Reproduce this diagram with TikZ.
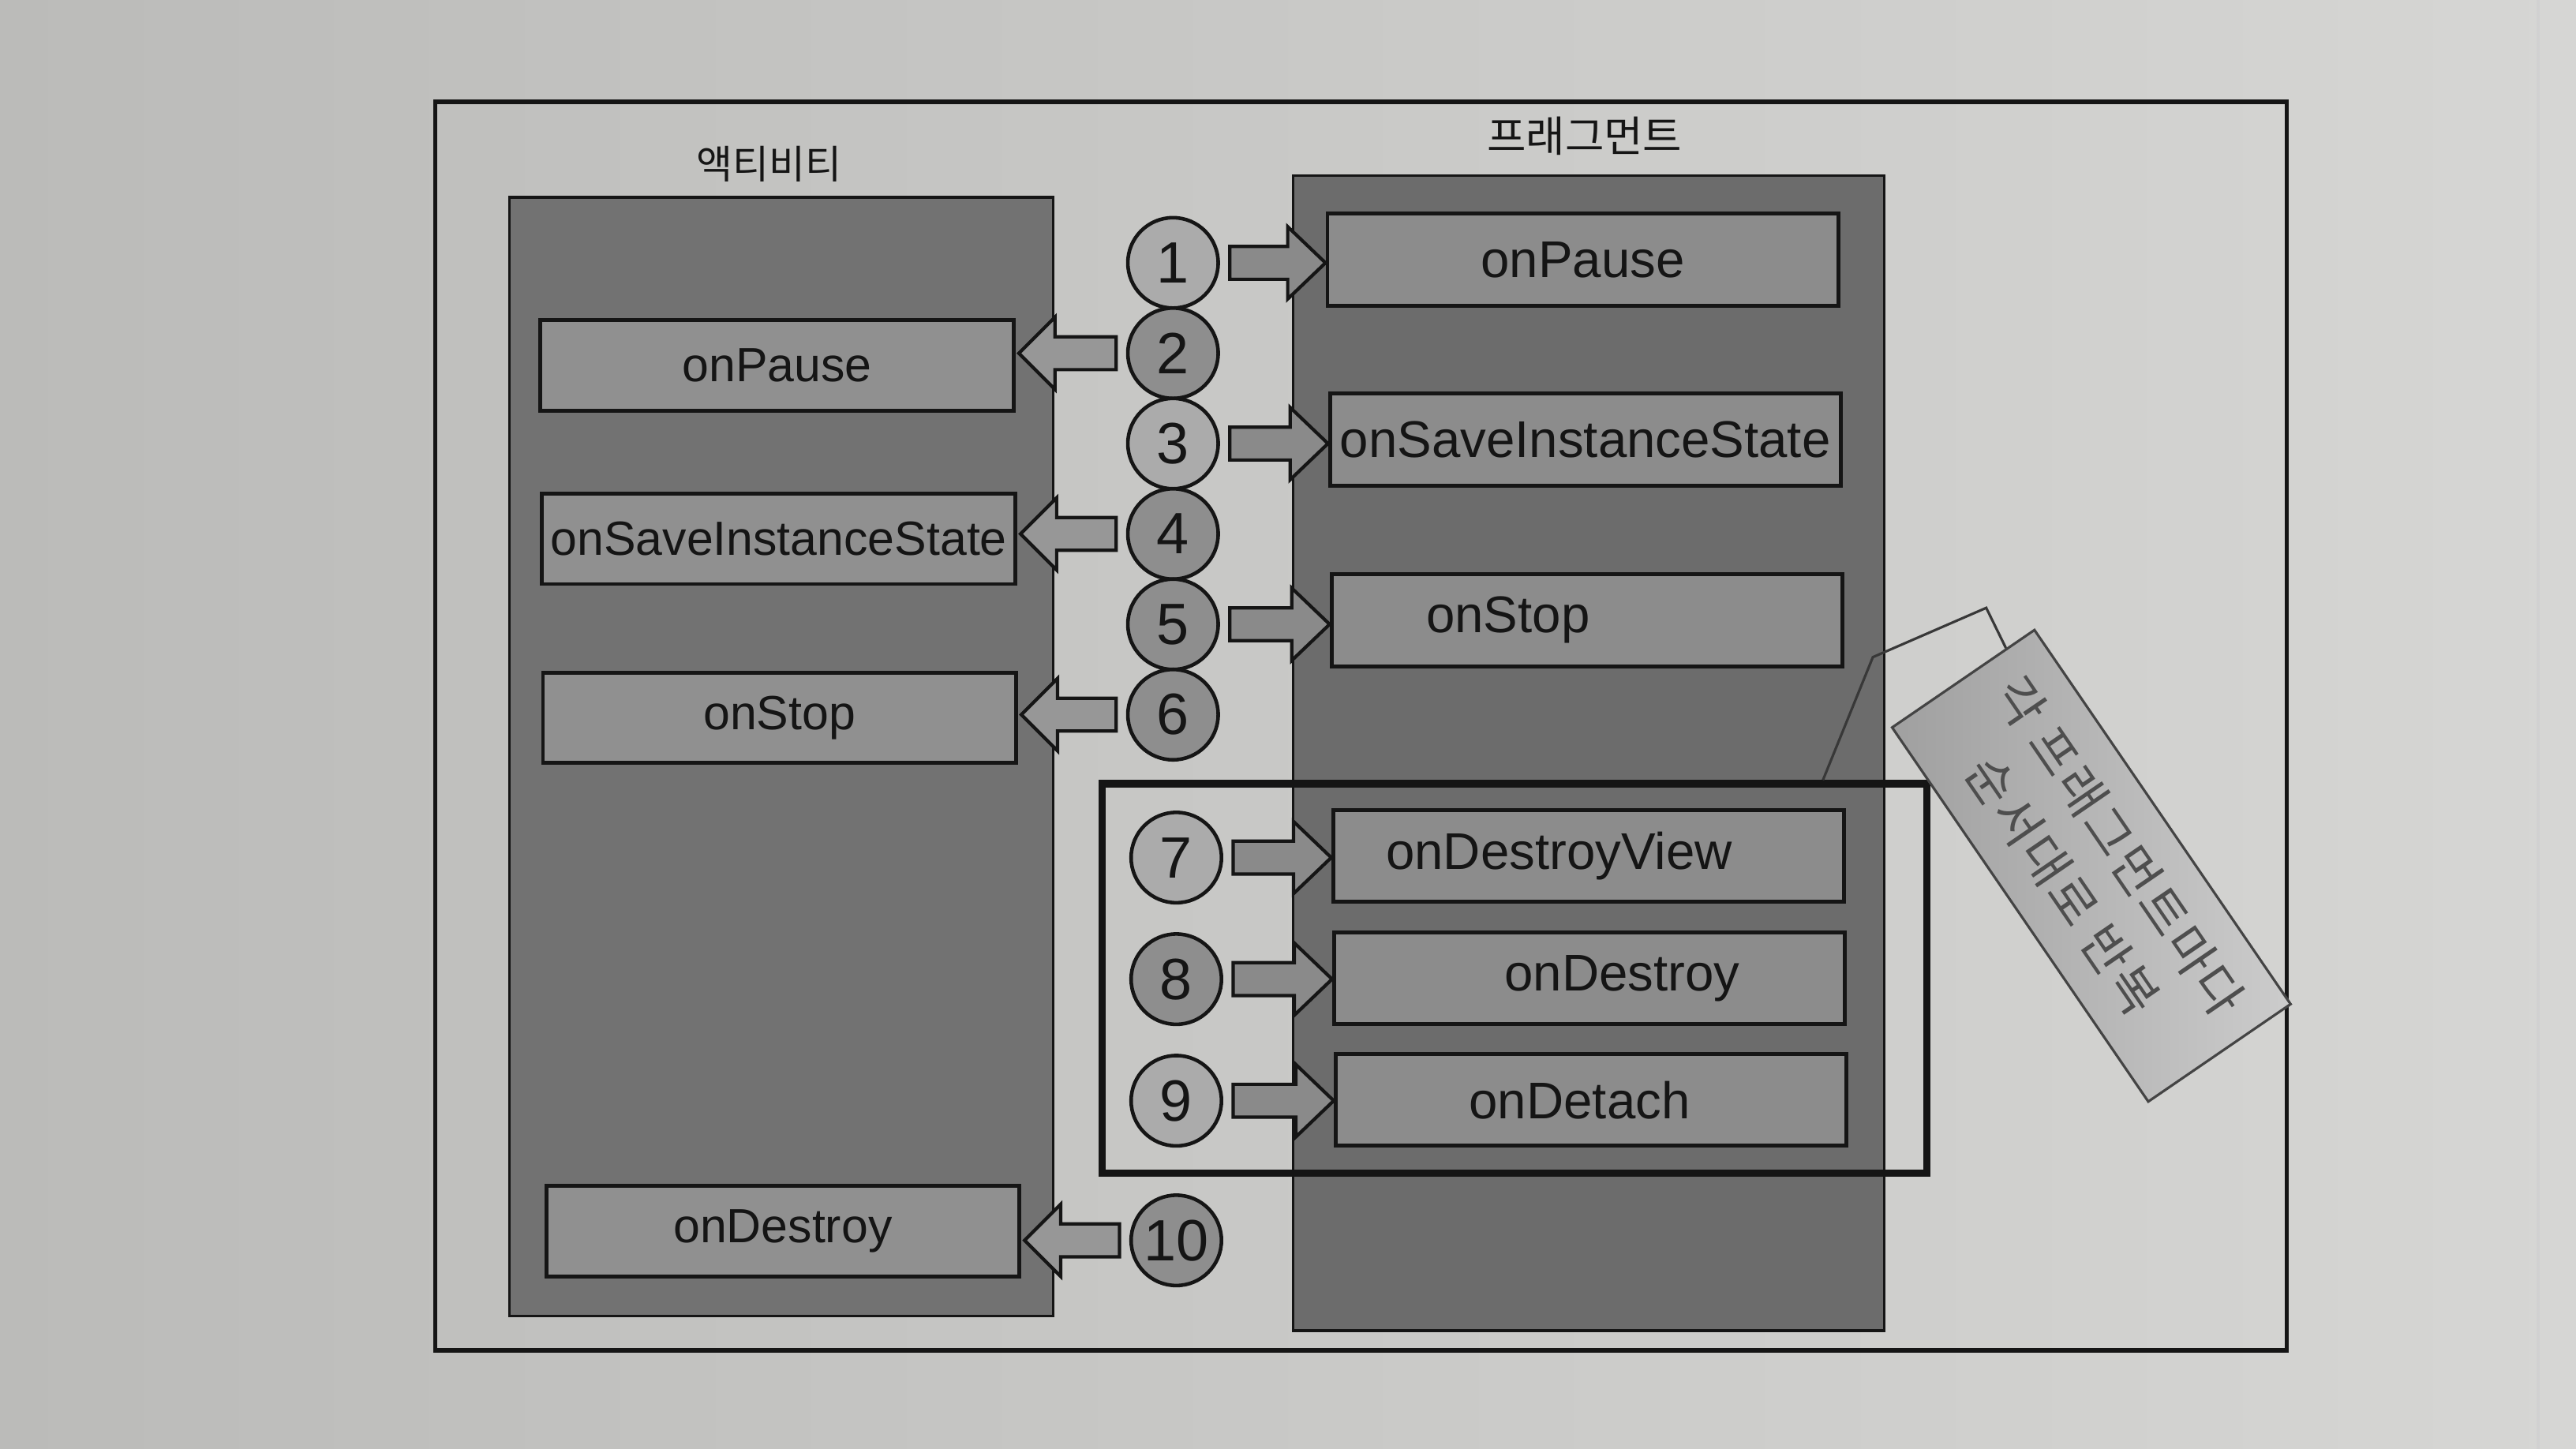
\documentclass[tikz,border=0pt]{standalone}
\usepackage{fontspec}
\setmainfont{Liberation Sans}
\newfontfamily\kr{Noto Sans CJK KR}
\newfontfamily\krsp[LetterSpace=5]{Noto Sans CJK KR}
\usetikzlibrary{calc}
\def\pu{0.020816cm}
\definecolor{paperL}{HTML}{BBBBB9}
\definecolor{paperR}{HTML}{D6D6D4}
\definecolor{colA}{HTML}{727272}
\definecolor{colF}{HTML}{6C6C6C}
\definecolor{boxA}{HTML}{909090}
\definecolor{boxF}{HTML}{8C8C8C}
\definecolor{numL}{HTML}{ABABAB}
\definecolor{numD}{HTML}{8E8E8E}
\definecolor{arrA}{HTML}{979797}
\definecolor{arrF}{HTML}{8A8A8A}
\definecolor{ink}{HTML}{151515}
\definecolor{noteC}{HTML}{B6B6B6}
\definecolor{noteT}{HTML}{4E4E4E}
\tikzset{
  frame/.style={draw=ink, line width=1.6pt, inner sep=0pt},
  column/.style={draw=ink, line width=1pt, inner sep=0pt},
  abox/.style={draw=ink, line width=1.4pt, fill=boxA, inner sep=0pt,
    minimum width=288*\pu, minimum height=55*\pu, text=ink,
    font=\fontsize{17.3}{20}\selectfont},
  fbox/.style={draw=ink, line width=1.4pt, fill=boxF, inner sep=0pt,
    minimum width=311*\pu, minimum height=56*\pu, text=ink,
    font=\fontsize{18.6}{21}\selectfont},
  num/.style={circle, draw=ink, line width=1.3pt, inner sep=0pt,
    minimum size=55*\pu, text=ink, font=\fontsize{21}{24}\selectfont},
  numlight/.style={num, fill=numL},
  numdark/.style={num, fill=numD},
  arrowbody/.style={draw=ink, line width=1.2pt, line join=miter},
  grpbox/.style={draw=ink, line width=2.6pt, inner sep=0pt},
  leader/.style={draw=ink!85, line width=0.9pt},
  notebox/.style={draw=ink!80, line width=0.9pt, left color=noteC!85!black!95, right color=noteC!70!white,
    inner sep=0pt, minimum width=276*\pu, minimum height=105*\pu,
    align=center, text=noteT, font=\krsp\fontsize{18}{25}\selectfont},
  collabel/.style={text=ink, inner sep=0pt}
}
\newcommand\rarr[3]{\draw[arrowbody, fill=#3] let \p1=(#1.east), \p2=(#2.west) in
  ({\x1+6*\pu},{\y1+10*\pu}) -- ({\x2-23*\pu},{\y1+10*\pu}) -- ({\x2-23*\pu},{\y1+22*\pu})
  -- (\x2,\y1) -- ({\x2-23*\pu},{\y1-22*\pu}) -- ({\x2-23*\pu},{\y1-10*\pu})
  -- ({\x1+6*\pu},{\y1-10*\pu}) -- cycle;}
\newcommand\larr[3]{\draw[arrowbody, fill=#3] let \p1=(#1.west), \p2=(#2.east) in
  ({\x1-6*\pu},{\y1+10*\pu}) -- ({\x2+24*\pu},{\y1+10*\pu}) -- ({\x2+24*\pu},{\y1+22*\pu})
  -- ({\x2+2*\pu},\y1) -- ({\x2+24*\pu},{\y1-22*\pu}) -- ({\x2+24*\pu},{\y1-10*\pu})
  -- ({\x1-6*\pu},{\y1-10*\pu}) -- cycle;}
\begin{document}
\begin{tikzpicture}[x=0.020816cm, y=-0.020816cm]
\useasboundingbox (0,0) rectangle (1568,882);
% paper
\fill[left color=paperL, right color=paperR] (0,0) rectangle (1568,882);
\draw[black!18, line width=1pt] (1545,0) -- (1545,882);
% outer frame
\node[frame, minimum width=1127*\pu, minimum height=760*\pu] (frame) at (828.5,442) {};
% column labels
\node[collabel, font=\kr\fontsize{14.2}{16}\selectfont] (alabel) at (468,100) {액티비티};
\node[collabel, font=\kr\fontsize{15.3}{17}\selectfont] (flabel) at (964.5,83) {프래그먼트};
% columns
\node[column, fill=colA, minimum width=331*\pu, minimum height=681*\pu] (acol) at (475.5,460.5) {};
\node[column, fill=colF, minimum width=360*\pu, minimum height=703*\pu] (fcol) at (967,458.5) {};
% activity boxes
\node[abox] (aPause) at (473,222.5) {onPause};
\node[abox] (aSave) at (474,328) {onSaveInstanceState};
\node[abox] (aStop) at (474.5,437) {onStop};
\node[abox] (aDestroy) at (476.5,749.5) {onDestroy};
% fragment boxes
\node[fbox] (fPause) at (963.5,158) {onPause};
\node[fbox] (fSave) at (965,267.5) {onSaveInstanceState};
\node[fbox] (fStop) at (966,377.5) {onStop\hspace*{2cm}};
\node[fbox] (fDView) at (967,521) {onDestroyView\hspace*{0.75cm}};
\node[fbox] (fDestroy) at (967.5,595.5) {\hspace*{0.83cm}onDestroy};
\node[fbox] (fDetach) at (968.5,669.5) {onDetach\hspace*{0.29cm}};
% numbered circles
\node[numlight] (c1) at (714,160) {1};
\node[numdark] (c2) at (714,215) {2};
\node[numlight] (c3) at (714,270) {3};
\node[numdark] (c4) at (714,325) {4};
\node[numdark] (c5) at (714,380) {5};
\node[numdark] (c6) at (714,435) {6};
\node[numlight] (c7) at (716,522) {7};
\node[numdark] (c8) at (716,596) {8};
\node[numlight] (c9) at (716,670) {9};
\node[numdark] (c10) at (716,755) {10};
% block arrows
\rarr{c1}{fPause}{arrF}
\larr{c2}{aPause}{arrA}
\rarr{c3}{fSave}{arrF}
\larr{c4}{aSave}{arrA}
\rarr{c5}{fStop}{arrF}
\larr{c6}{aStop}{arrA}
\rarr{c7}{fDView}{arrF}
\rarr{c8}{fDestroy}{arrF}
\rarr{c9}{fDetach}{arrF}
\larr{c10}{aDestroy}{arrA}
% repeat group
\node[grpbox, minimum width=502*\pu, minimum height=237*\pu] (grp) at (922,595.5) {};
% note
\node[notebox, rotate=-55.6] (note) at (1273,527) {각 프래그먼트마다\\순서대로 반복};
\coordinate (lk1) at (1140,400);
\coordinate (lk2) at (1209,370);
\draw[leader] ($(grp.north west)!0.8705!(grp.north east)$) -- (lk1) -- (lk2)
  -- ($(note.north west)!0.2!(note.south west)$);
\end{tikzpicture}
\end{document}
